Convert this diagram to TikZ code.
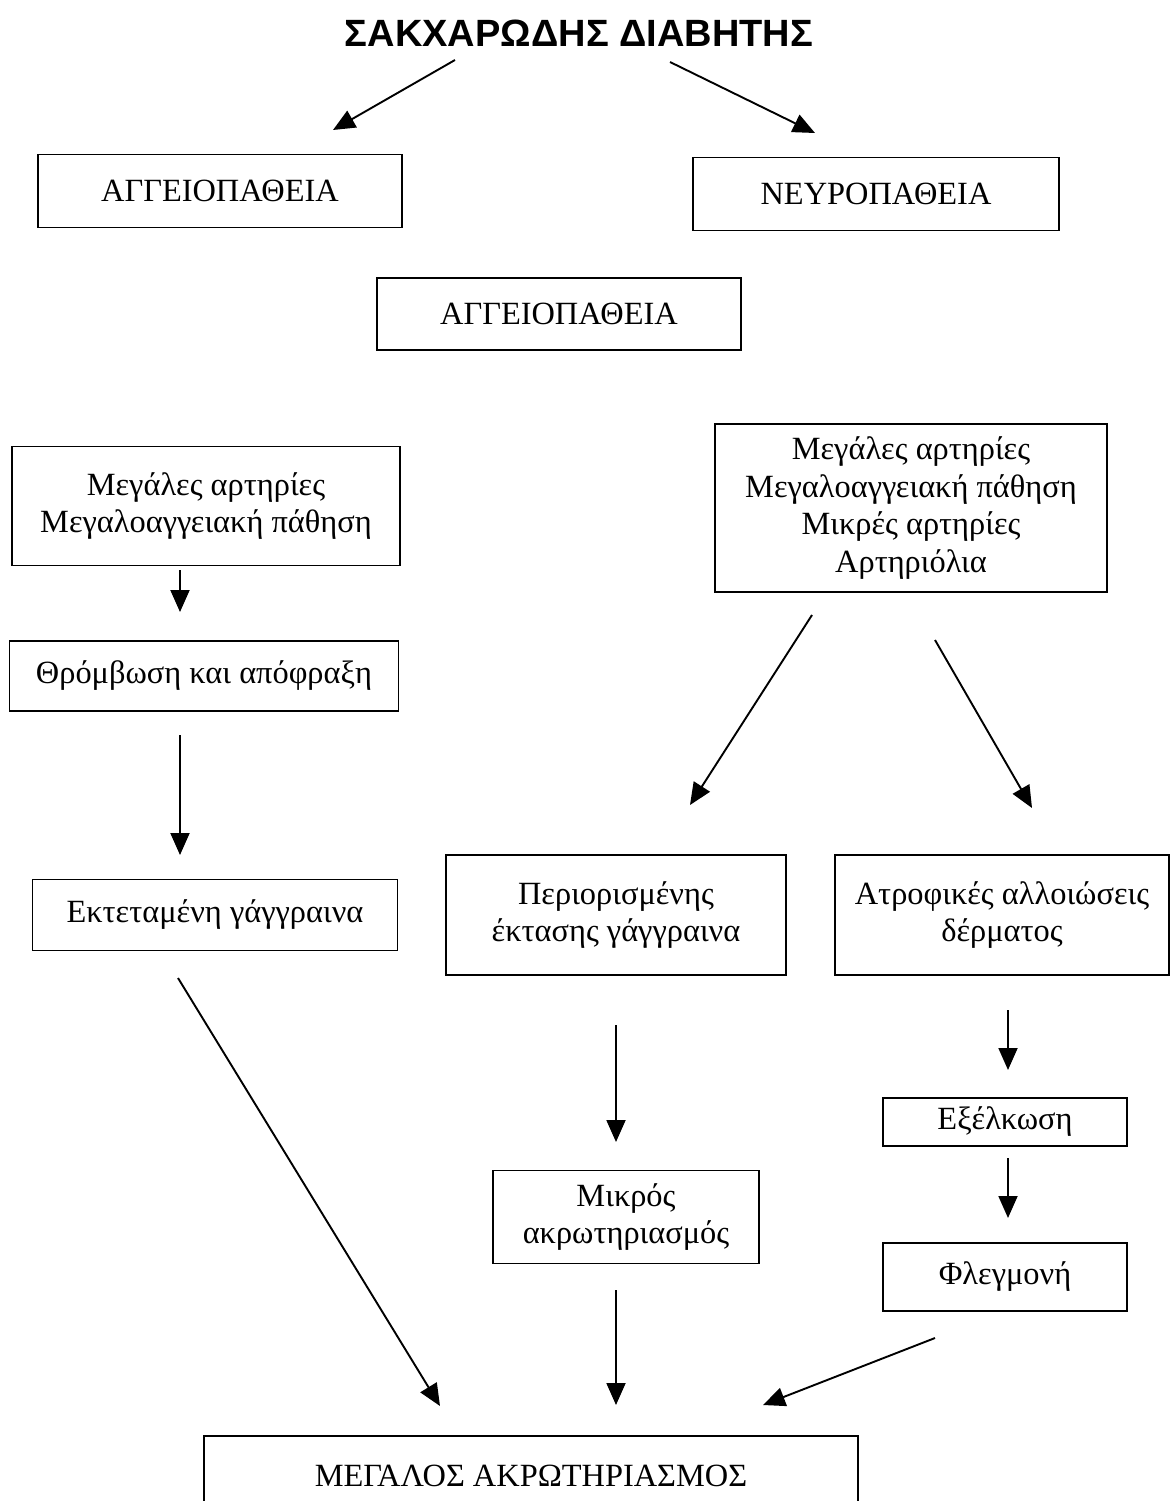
\documentclass[tikz,border=0pt]{standalone}
\usepackage{fontspec}
\setmainfont{Liberation Serif}
\newfontfamily\titlefont{Liberation Sans}
\usetikzlibrary{positioning,arrows.meta}

\begin{document}
\begin{tikzpicture}[
  x=1pt, y=-1pt,
  font=\fontsize{32.4}{37.5}\selectfont,
  box/.style={draw,line width=1.9pt,align=center,inner sep=0pt},
  arr/.style={-{Triangle[length=22pt,width=19pt]},line width=1.9pt}
]
\clip (0,0) rectangle (1171,1501);
\fill[white] (0,0) rectangle (1171,1501);

\node (title) at (579,33) {\titlefont\bfseries\fontsize{38}{44}\selectfont ΣΑΚΧΑΡΩΔΗΣ ΔΙΑΒΗΤΗΣ};

\node[box,minimum width=364,minimum height=73] (ag1) at (220,191) {ΑΓΓΕΙΟΠΑΘΕΙΑ};
\node[box,minimum width=366,minimum height=73] (neur) at (876,194) {ΝΕΥΡΟΠΑΘΕΙΑ};
\node[box,minimum width=364,minimum height=72] (ag2) at (559,314) {ΑΓΓΕΙΟΠΑΘΕΙΑ};

\node[box,minimum width=388,minimum height=119] (meg) at (206,506) {Μεγάλες αρτηρίες\\Μεγαλοαγγειακή πάθηση};
\node[box,minimum width=389,minimum height=70] (throm) at (204,676) {Θρόμβωση και απόφραξη};
\node[box,minimum width=365,minimum height=71] (ekt) at (215,915) {Εκτεταμένη γάγγραινα};

\node[box,minimum width=392,minimum height=168] (big) at (911,508) {Μεγάλες αρτηρίες\\Μεγαλοαγγειακή πάθηση\\Μικρές αρτηρίες\\Αρτηριόλια};
\node[box,minimum width=340,minimum height=120] (perio) at (616,915) {Περιορισμένης\\έκτασης γάγγραινα};
\node[box,minimum width=334,minimum height=120] (atro) at (1002,915) {Ατροφικές αλλοιώσεις\\δέρματος};

\node[box,minimum width=244,minimum height=48] (exel) at (1005,1122) {Εξέλκωση};
\node[box,minimum width=266,minimum height=93] (mikr) at (626,1217) {Μικρός\\ακρωτηριασμός};
\node[box,minimum width=244,minimum height=68] (fleg) at (1005,1277) {Φλεγμονή};

\node[box,minimum width=654,minimum height=80] (megak) at (531,1476) {ΜΕΓΑΛΟΣ ΑΚΡΩΤΗΡΙΑΣΜΟΣ};

\draw[arr] ([shift={(-124,27)}]title.center) -- ([shift={(113,-61)}]ag1.center);
\draw[arr] ([shift={(91,29)}]title.center) -- ([shift={(-61,-61)}]neur.center);
\draw[arr] ([shift={(-26,64)}]meg.center) -- ([shift={(-24,-64)}]throm.center);
\draw[arr] ([shift={(-24,59)}]throm.center) -- ([shift={(-35,-60)}]ekt.center);
\draw[arr] ([shift={(-37,63)}]ekt.center) -- ([shift={(-91,-70)}]megak.center);
\draw[arr] ([shift={(-99,107)}]big.center) -- ([shift={(74,-110)}]perio.center);
\draw[arr] ([shift={(24,132)}]big.center) -- ([shift={(30,-107)}]atro.center);
\draw[arr] ([shift={(0,110)}]perio.center) -- ([shift={(-10,-75)}]mikr.center);
\draw[arr] ([shift={(6,95)}]atro.center) -- ([shift={(3,-52)}]exel.center);
\draw[arr] ([shift={(3,36)}]exel.center) -- ([shift={(3,-59)}]fleg.center);
\draw[arr] ([shift={(-10,73)}]mikr.center) -- ([shift={(85,-71)}]megak.center);
\draw[arr] ([shift={(-70,61)}]fleg.center) -- ([shift={(232,-71)}]megak.center);
\end{tikzpicture}
\end{document}
